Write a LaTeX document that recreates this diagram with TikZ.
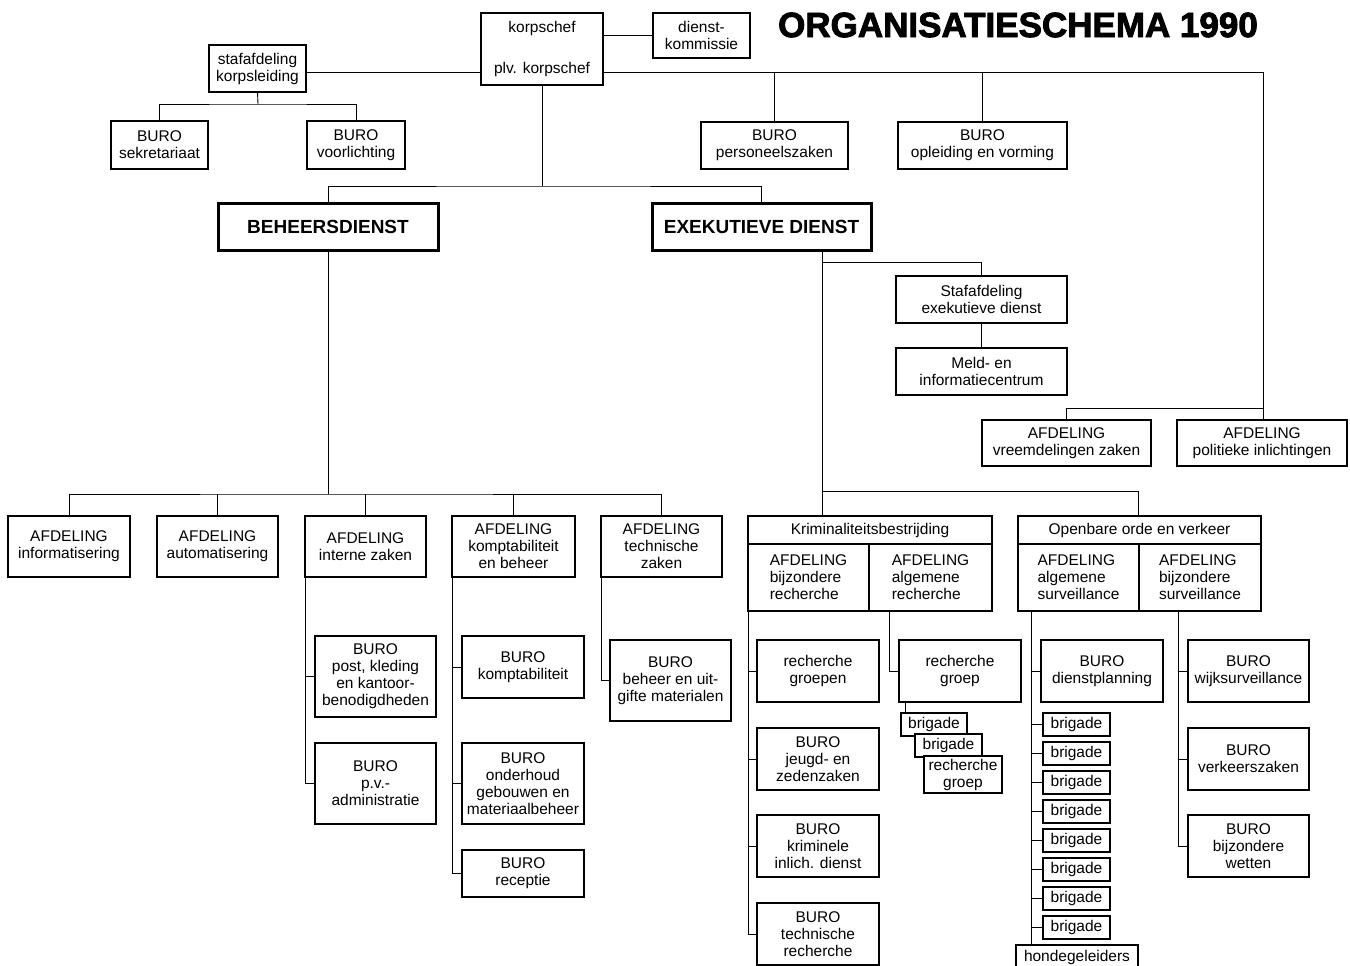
\documentclass[tikz,border=0pt]{standalone}
\usepackage{fontspec}
\setmainfont{Liberation Sans}
\newfontfamily\heavyfont{Liberation Sans}[BoldFeatures={FakeBold=2.5}]
\begin{document}
\newcommand\bx[7][]{%
  \node[box,#1,minimum width={(#5-#3)*1pt},minimum height={(#6-#4)*1pt}] (#2) at ({(#3+#5)/2},{(#4+#6)/2}) {#7};}
\begin{tikzpicture}[x=1pt,y=-1pt,
  box/.style={draw,fill=white,line width=1.1pt,inner sep=0pt,outer sep=0pt,align=center,
    font=\fontsize{15.5}{17}\selectfont},
  boldbox/.style={line width=3pt,font=\bfseries\fontsize{19}{22}\selectfont},
  lbox/.style={align=left},
  ln/.style={line width=0.9pt}]
\useasboundingbox (0,0) rectangle (1350,966);
\fill[white] (0,0) rectangle (1350,966);

% title
\node[inner sep=0pt,font=\heavyfont\bfseries\fontsize{35}{40}\selectfont] (title) at (1018,25) {ORGANISATIESCHEMA 1990};

% top
\bx{korps}{481}{13}{603}{85}{korpschef\\[24pt]plv. korpschef}
\bx{dk}{653}{13}{750}{58}{dienst-\\kommissie}
\bx{staf}{209}{45}{306}{92}{stafafdeling\\korpsleiding}
\bx{sek}{111}{121}{208}{169}{BURO\\sekretariaat}
\bx{voor}{307}{121}{405}{169}{BURO\\voorlichting}
\bx{bpers}{701}{122}{848}{169}{BURO\\personeelszaken}
\bx{bopl}{898}{122}{1067}{169}{BURO\\opleiding en vorming}
\bx[boldbox]{beh}{218}{203}{438}{250}{BEHEERSDIENST}
\bx[boldbox]{exe}{652}{203}{871}{250}{EXEKUTIEVE DIENST}
\bx{stex}{896}{276}{1067}{323}{Stafafdeling\\exekutieve dienst}
\bx{meld}{896}{348}{1067}{395}{Meld- en\\informatiecentrum}
\bx{vreemd}{982}{420}{1151}{466}{AFDELING\\vreemdelingen zaken}
\bx{pol}{1177}{420}{1347}{466}{AFDELING\\politieke inlichtingen}

% beheersdienst
\bx{a1}{8}{516}{130}{577}{AFDELING\\informatisering}
\bx{a2}{157}{516}{278}{577}{AFDELING\\automatisering}
\bx{a3}{305}{516}{426}{577}{AFDELING\\interne zaken}
\bx{a4}{452}{516}{575}{577}{AFDELING\\komptabiliteit\\en beheer}
\bx{a5}{601}{516}{722}{577}{AFDELING\\technische\\zaken}
\bx{post}{315}{636}{436}{717}{BURO\\post, kleding\\en kantoor-\\benodigdheden}
\bx{pv}{315}{743}{436}{824}{BURO\\p.v.-\\administratie}
\bx{bkomp}{462}{636}{584}{698}{BURO\\komptabiliteit}
\bx{ond}{462}{743}{584}{824}{BURO\\onderhoud\\gebouwen en\\materiaalbeheer}
\bx{rec}{462}{850}{584}{897}{BURO\\receptie}
\bx{bhr}{610}{640}{731}{721}{BURO\\beheer en uit-\\gifte materialen}

% exekutieve dienst
\bx{krim}{748}{516}{992}{544}{Kriminaliteitsbestrijding}
\bx[lbox]{kb}{748}{544}{869}{611}{AFDELING\\bijzondere\\recherche}
\bx[lbox]{ka}{869}{544}{992}{611}{AFDELING\\algemene\\recherche}
\bx{open}{1018}{516}{1261}{544}{Openbare orde en verkeer}
\bx[lbox]{sa}{1018}{544}{1139}{611}{AFDELING\\algemene\\surveillance}
\bx[lbox]{sb}{1139}{544}{1261}{611}{AFDELING\\bijzondere\\surveillance}
\bx{rg}{757}{640}{879}{702}{recherche\\groepen}
\bx{jz}{757}{728}{879}{790}{BURO\\jeugd- en\\zedenzaken}
\bx{kid}{757}{815}{879}{877}{BURO\\kriminele\\inlich. dienst}
\bx{btr}{757}{903}{879}{965}{BURO\\technische\\recherche}
\bx{rgp}{899}{640}{1021}{702}{recherche\\groep}
\bx{br1}{901}{713}{967}{736}{brigade}
\bx{br2}{915}{734}{982}{757}{brigade}
\bx{rgs}{924}{756}{1002}{793}{recherche\\groep}
\bx{dp}{1041}{640}{1163}{702}{BURO\\dienstplanning}
\bx{b1}{1043}{713}{1110}{736}{brigade}
\bx{b2}{1043}{742}{1110}{765}{brigade}
\bx{b3}{1043}{771}{1110}{794}{brigade}
\bx{b4}{1043}{800}{1110}{823}{brigade}
\bx{b5}{1043}{829}{1110}{852}{brigade}
\bx{b6}{1043}{858}{1110}{881}{brigade}
\bx{b7}{1043}{887}{1110}{910}{brigade}
\bx{b8}{1043}{916}{1110}{939}{brigade}
\bx{hond}{1016}{945}{1138}{970}{hondegeleiders}
\bx{wijk}{1188}{640}{1309}{702}{BURO\\wijksurveillance}
\bx{verk}{1188}{728}{1309}{790}{BURO\\verkeerszaken}
\bx{bw}{1188}{815}{1309}{877}{BURO\\bijzondere\\wetten}

% junction coordinates
\coordinate (jR) at (1263,72);
\coordinate (jA) at (1263,408);
\coordinate (jS) at (258,104);
\coordinate (jK) at (542,186);
\coordinate (jE) at (822,491);
\coordinate (jE2) at (822,262);
\coordinate (jO) at (1138,491);
\coordinate (jB) at (328,494);
\coordinate (ja) at (889,611);
\coordinate (jr) at (905,702);
\coordinate (js) at (1031,611);
\coordinate (jb) at (1178,611);

% connectors
\begin{scope}[ln]
\draw (korps.east |- dk.west) -- (dk.west);
\draw (staf.east |- jR) -- (korps.west |- jR);
\draw (korps.east |- jR) -- (jR) -- (pol.north -| jR);
\draw (vreemd.north) |- (jA);
\draw (bpers.north) -- (bpers.north |- jR);
\draw (bopl.north) -- (bopl.north |- jR);
\draw (staf.south) -- (jS);
\draw (sek.north) |- (jS) -| (voor.north);
\draw (korps.south) -- (jK);
\draw (beh.north) |- (jK) -| (exe.north);
\draw (exe.south -| jE) -- (jE);
\draw (jE2) -| (stex.north);
\draw (stex.south) -- (meld.north);
\draw (krim.north -| jE) -- (jE) -- (jO) -- (open.north -| jO);
\draw (beh.south) -- (jB);
\draw (a1.north) |- (jB) -| (a5.north);
\draw (a2.north) -- (a2.north |- jB);
\draw (a3.north) -- (a3.north |- jB);
\draw (a4.north) -- (a4.north |- jB);
% interne zaken
\draw (a3.south west) |- (pv.west);
\draw (a3.south west |- post.west) -- (post.west);
% komptabiliteit
\draw (a4.south west) |- (rec.west);
\draw (a4.south west |- bkomp.west) -- (bkomp.west);
\draw (a4.south west |- ond.west) -- (ond.west);
% technische zaken
\draw (a5.south west) |- (bhr.west);
% bijzondere recherche
\draw (kb.south west) |- (btr.west);
\draw (kb.south west |- rg.west) -- (rg.west);
\draw (kb.south west |- jz.west) -- (jz.west);
\draw (kb.south west |- kid.west) -- (kid.west);
% algemene recherche
\draw (ja) |- (rgp.west);
\draw (jr) -- (jr |- br1.north);
% algemene surveillance
\draw (js) -- (js |- hond.north);
\foreach \n in {dp,b1,b2,b3,b4,b5,b6,b7,b8}
  \draw (js |- \n.west) -- (\n.west);
% bijzondere surveillance
\draw (jb) |- (bw.west);
\draw (jb |- wijk.west) -- (wijk.west);
\draw (jb |- verk.west) -- (verk.west);
\end{scope}
\end{tikzpicture}
\end{document}
